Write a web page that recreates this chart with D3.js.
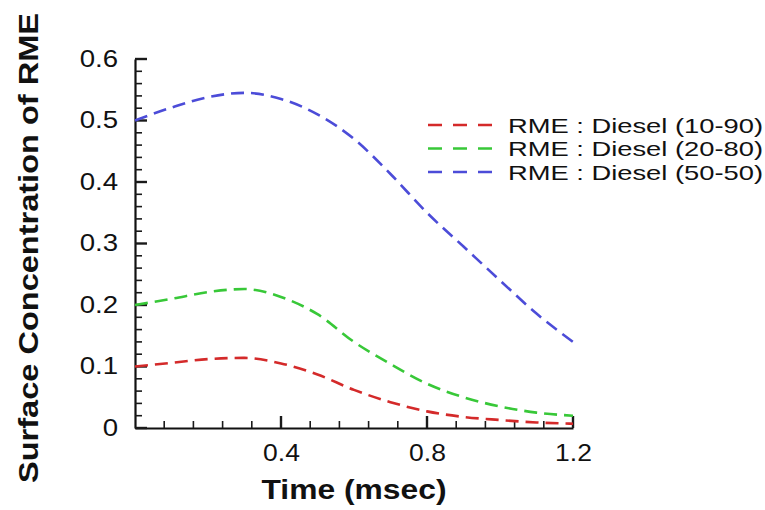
<!DOCTYPE html>
<html>
<head>
<meta charset="utf-8">
<script src="https://cdn.jsdelivr.net/npm/d3@7"></script>
<style>
  body { margin: 0; background: #fff; }
  svg text { font-family: "Liberation Sans", Arial, sans-serif; fill: #111; }
</style>
</head>
<body>
<div id="chart"></div>
<script>
// time (msec)
var times = [0, 0.1, 0.2, 0.3, 0.4, 0.5, 0.6, 0.7, 0.8, 0.9, 1.0, 1.1, 1.2];
// surface concentration of RME
var rme10 = [0.100, 0.106, 0.112, 0.114, 0.105, 0.087, 0.062, 0.042, 0.027, 0.018, 0.013, 0.009, 0.007];
var rme20 = [0.200, 0.210, 0.221, 0.226, 0.213, 0.185, 0.140, 0.104, 0.072, 0.050, 0.035, 0.025, 0.020];
var rme50 = [0.500, 0.521, 0.538, 0.545, 0.535, 0.510, 0.470, 0.413, 0.350, 0.295, 0.240, 0.186, 0.140];
var seriesNames = ["RME : Diesel (10-90)", "RME : Diesel (20-80)", "RME : Diesel (50-50)"];
var seriesColors = ["#d42a2a", "#38c838", "#4c4cd8"];
var yTicks = [0, 0.1, 0.2, 0.3, 0.4, 0.5, 0.6];
var xTicks = [0.4, 0.8, 1.2];

var width = 765, height = 510;
var svg = d3.select('#chart').append('svg')
  .attr('width', width)
  .attr('height', height);

var x = d3.scaleLinear().domain([0, 1.2]).range([135, 573]);
var y = d3.scaleLinear().domain([0, 0.6]).range([428, 59]);

// stretch text horizontally a bit, the original font is wider than Arial
function stretch(sel, k) {
  sel.each(function () {
    var w = this.getComputedTextLength();
    d3.select(this).attr('textLength', w * k).attr('lengthAdjust', 'spacingAndGlyphs');
  });
}

var yMinor = d3.range(0, 0.601, 0.02).filter(function (v) { return Math.abs(v * 10 - Math.round(v * 10)) > 1e-6; });
var xMinor = d3.range(0.08, 1.2, 0.08).filter(function (v) { return Math.abs(v / 0.4 - Math.round(v / 0.4)) > 1e-6; });

// axes: labels and lines
var yAxis = svg.append('g').attr('class', 'axis')
  .attr('transform', 'translate(' + x(0) + ',0)')
  .call(d3.axisLeft(y).tickValues(yTicks).tickSize(0).tickPadding(17)
    .tickFormat(function (d) { return d === 0 ? '0' : d3.format('.1f')(d); }));
yAxis.select('.domain').attr('stroke', '#111').attr('stroke-width', 2.2);
yAxis.selectAll('text').style('font-size', '23px');
stretch(yAxis.selectAll('text'), 1.2);

var xAxis = svg.append('g').attr('class', 'axis')
  .attr('transform', 'translate(0,' + y(0) + ')')
  .call(d3.axisBottom(x).tickValues(xTicks).tickSize(0).tickPadding(17)
    .tickFormat(d3.format('.1f')));
xAxis.select('.domain').attr('stroke', '#111').attr('stroke-width', 2.2);
xAxis.selectAll('text').style('font-size', '23px');
stretch(xAxis.selectAll('text'), 1.15);

// tick marks, pointing into the plot: [value, length, width]
var ticks = svg.append('g').attr('class', 'tickmarks');
ticks.selectAll('line.ytk')
  .data(yTicks.map(function (v) { return [v, 12, 2.4]; }).concat(yMinor.map(function (v) { return [v, 7, 1.6]; })))
  .enter().append('line')
  .attr('class', 'ytk')
  .attr('stroke', '#1a1a1a')
  .attr('stroke-width', function (d) { return d[2]; })
  .attr('x1', x(0)).attr('x2', function (d) { return x(0) + d[1]; })
  .attr('y1', function (d) { return y(d[0]); }).attr('y2', function (d) { return y(d[0]); });
ticks.selectAll('line.xtk')
  .data(xTicks.map(function (v) { return [v, 12, 2.4]; }).concat(xMinor.map(function (v) { return [v, 7, 1.6]; })))
  .enter().append('line')
  .attr('class', 'xtk')
  .attr('stroke', '#1a1a1a')
  .attr('stroke-width', function (d) { return d[2]; })
  .attr('y1', y(0)).attr('y2', function (d) { return y(0) - d[1]; })
  .attr('x1', function (d) { return x(d[0]); }).attr('x2', function (d) { return x(d[0]); });

// curves
var allSeries = [rme10, rme20, rme50];
var lineGen = d3.line()
  .x(function (d, i) { return x(times[i]); })
  .y(function (d) { return y(d); })
  .curve(d3.curveMonotoneX);

svg.append('g').attr('class', 'lines')
  .selectAll('path')
  .data(allSeries)
  .enter()
  .append('path')
  .attr('d', lineGen)
  .attr('fill', 'none')
  .attr('stroke', function (d, i) { return seriesColors[i]; })
  .attr('stroke-width', 2.6)
  .attr('stroke-dasharray', '13,7');

// legend
var legend = svg.append('g').attr('class', 'legend');
var rows = legend.selectAll('g')
  .data(seriesNames)
  .enter()
  .append('g')
  .attr('transform', function (d, i) { return 'translate(428,' + (125 + i * 23.5) + ')'; });
rows.append('line')
  .attr('x1', 0).attr('x2', 64)
  .attr('stroke', function (d, i) { return seriesColors[i]; })
  .attr('stroke-width', 2.6)
  .attr('stroke-dasharray', '14,11');
rows.append('text')
  .attr('x', 80)
  .attr('dy', '0.36em')
  .style('font-size', '21px')
  .attr('textLength', 255).attr('lengthAdjust', 'spacingAndGlyphs')
  .text(function (d) { return d; });

// titles
svg.append('text')
  .attr('x', 354).attr('y', 499)
  .attr('text-anchor', 'middle')
  .style('font-size', '28px')
  .style('font-weight', 'bold')
  .attr('textLength', 185).attr('lengthAdjust', 'spacingAndGlyphs')
  .text('Time (msec)');

svg.append('text')
  .attr('transform', 'translate(38,248) rotate(-90)')
  .attr('text-anchor', 'middle')
  .style('font-size', '28px')
  .style('font-weight', 'bold')
  .attr('textLength', 470).attr('lengthAdjust', 'spacingAndGlyphs')
  .text('Surface Concentration of RME');
</script>
</body>
</html>
